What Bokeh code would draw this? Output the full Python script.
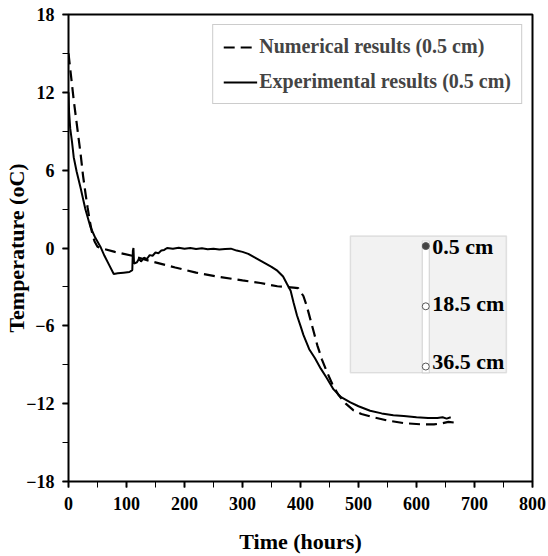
from bokeh.plotting import figure
from bokeh.models import (ColumnDataSource, Legend, LegendItem, BoxAnnotation,
                          SingleIntervalTicker, Range1d)
from bokeh.core.properties import value
from bokeh.embed import file_html
from bokeh.resources import INLINE

# Temperature at 0.5 cm depth: numerical model
num_time = [0, 3, 6, 9, 13, 17, 21, 25, 29, 33, 37, 41, 45, 50, 55, 80, 110, 140,
            184, 220, 256, 300, 331, 360, 388, 396, 405, 411, 417, 423, 429, 437,
            446, 455, 465, 478, 491, 505, 526, 550, 578, 610, 630, 645, 655, 672]
num_temp = [15.0, 13.8, 12.6, 11.4, 10.0, 8.6, 7.2, 5.6, 4.3, 3.1, 2.0, 1.1, 0.5,
            0.1, 0.0, -0.3, -0.6, -1.0, -1.5, -1.9, -2.2, -2.5, -2.7, -2.95, -3.05,
            -3.1, -3.7, -4.5, -5.5, -6.5, -7.5, -8.6, -9.6, -10.5, -11.3, -12.0,
            -12.5, -12.8, -13.05, -13.3, -13.5, -13.6, -13.6, -13.5, -13.4, -13.5]

# Temperature at 0.5 cm depth: measurements
exp_time = [0, 1, 3, 6, 9, 14, 21, 29, 38, 46, 55, 62, 70, 78, 85, 95, 105, 110,
            111, 112, 113, 118, 122, 125, 130, 135, 140, 145, 150, 155, 160, 165,
            170, 180, 190, 200, 210, 220, 230, 240, 250, 260, 270, 280, 290, 300,
            310, 320, 330, 340, 350, 360, 370, 377, 383, 388, 394, 400, 405, 415,
            425, 435, 445, 457, 470, 486, 500, 520, 540, 560, 578, 600, 620, 636,
            645, 652, 659]
exp_temp = [12.0, 10.5, 9.2, 8.2, 7.0, 5.9, 4.6, 3.0, 1.6, 0.8, 0.1, -0.6, -1.3,
            -2.0, -1.95, -1.9, -1.85, -1.7, -0.2, 0.0, -1.2, -1.1, -0.8, -1.05,
            -0.75, -0.85, -0.55, -0.6, -0.35, -0.4, -0.2, -0.15, 0.0, -0.05, 0.02,
            -0.05, 0.0, -0.08, -0.02, -0.1, -0.05, -0.12, -0.08, -0.05, -0.2, -0.3,
            -0.45, -0.7, -0.95, -1.2, -1.45, -1.75, -2.2, -2.8, -3.3, -4.2, -5.2,
            -6.0, -6.7, -7.8, -8.5, -9.3, -10.0, -10.9, -11.5, -11.9, -12.2, -12.55,
            -12.75, -12.9, -12.95, -13.05, -13.1, -13.1, -13.05, -13.15, -13.05]

series_labels = ["Numerical results (0.5 cm)", "Experimental results (0.5 cm)"]

# Sensor positions shown in the column sketch
sensor_depth = [0.5, 18.5, 36.5]
sensor_labels = ["0.5 cm", "18.5 cm", "36.5 cm"]

FONT = "Liberation Serif"

p = figure(width=548, height=556, x_range=Range1d(0, 800), y_range=Range1d(-18, 18),
           output_backend="svg", toolbar_location=None,
           min_border_left=68, min_border_right=16, min_border_top=14,
           min_border_bottom=74, x_axis_label="Time (hours)",
           y_axis_label="Temperature (oC)")
p.xgrid.grid_line_color = None
p.ygrid.grid_line_color = None
p.outline_line_color = "black"
p.outline_line_width = 2

p.xaxis.ticker = SingleIntervalTicker(interval=100, num_minor_ticks=2)
p.yaxis.ticker = SingleIntervalTicker(interval=6, num_minor_ticks=2)
for ax in (p.xaxis[0], p.yaxis[0]):
    ax.major_tick_in = 0
    ax.major_tick_out = 6
    ax.minor_tick_in = 0
    ax.minor_tick_out = 6
    ax.major_tick_line_color = "black"
    ax.minor_tick_line_color = "black"
    ax.major_tick_line_width = 2
    ax.major_label_text_font = FONT
    ax.major_label_text_font_style = "bold"
    ax.major_label_text_font_size = "18px"
    ax.major_label_text_color = "black"
    ax.axis_label_text_font = FONT
    ax.axis_label_text_font_style = "bold"
    ax.axis_label_text_font_size = "22px"
    ax.axis_label_text_color = "black"
p.xaxis.major_label_standoff = 9
p.xaxis.axis_label_standoff = 16
p.yaxis.major_label_standoff = 8
p.yaxis.axis_label_standoff = -6

# Column sketch with sensor positions
inset_left, inset_right, inset_top, inset_bottom = 486, 755, 0.92, -9.62
tube_left, tube_right, tube_top = 610, 622, 0.54
tube_x = (tube_left + tube_right) / 2


def depth_to_y(d):
    return 0.15 - (d - 0.5) * 0.258


p.add_layout(BoxAnnotation(left=inset_left, right=inset_right, top=inset_top,
                           bottom=inset_bottom, fill_color="#f2f2f2", fill_alpha=1,
                           line_color="#a6a6a6", line_width=1.5))
p.add_layout(BoxAnnotation(left=tube_left, right=tube_right, top=tube_top,
                           bottom=inset_bottom, fill_color="white", fill_alpha=1,
                           line_color="#8c8c8c", line_width=1.2))
sensor_src = ColumnDataSource(dict(
    x=[tube_x] * len(sensor_depth),
    y=[depth_to_y(d) for d in sensor_depth],
    fill=["#404040", "white", "white"],
    label=sensor_labels,
    dy=[0, -3, -5],
))
r_sensor = p.scatter("x", "y", source=sensor_src, size=7, fill_color="fill",
                     line_color="#555555", line_width=1, level="overlay")
r_sensor_text = p.text(x=tube_right + 5, y="y", text="label", source=sensor_src,
                       text_font=value(FONT), text_font_style="bold",
                       text_font_size="22px", text_baseline="middle",
                       text_align="left", y_offset="dy", text_color="black",
                       level="overlay")

num_src = ColumnDataSource(dict(t=num_time, T=num_temp))
exp_src = ColumnDataSource(dict(t=exp_time, T=exp_temp))
r_num = p.line("t", "T", source=num_src, line_color="black", line_width=2.2,
               line_dash="11 6")
r_exp = p.line("t", "T", source=exp_src, line_color="black", line_width=2)

legend = Legend(items=[LegendItem(label=series_labels[0], renderers=[r_num]),
                       LegendItem(label=series_labels[1], renderers=[r_exp])],
                location="top_right")
legend.label_text_font = FONT
legend.label_text_font_style = "bold"
legend.label_text_font_size = "20px"
legend.glyph_width = 34
legend.glyph_height = 20
legend.label_height = 20
legend.label_standoff = 2
legend.spacing = 12
legend.padding = 10
legend.margin = 10
legend.border_line_color = "#9a9a9a"
legend.border_line_width = 1.5
legend.background_fill_alpha = 1
p.add_layout(legend)

open("out.html", "w").write(file_html(p, INLINE))
